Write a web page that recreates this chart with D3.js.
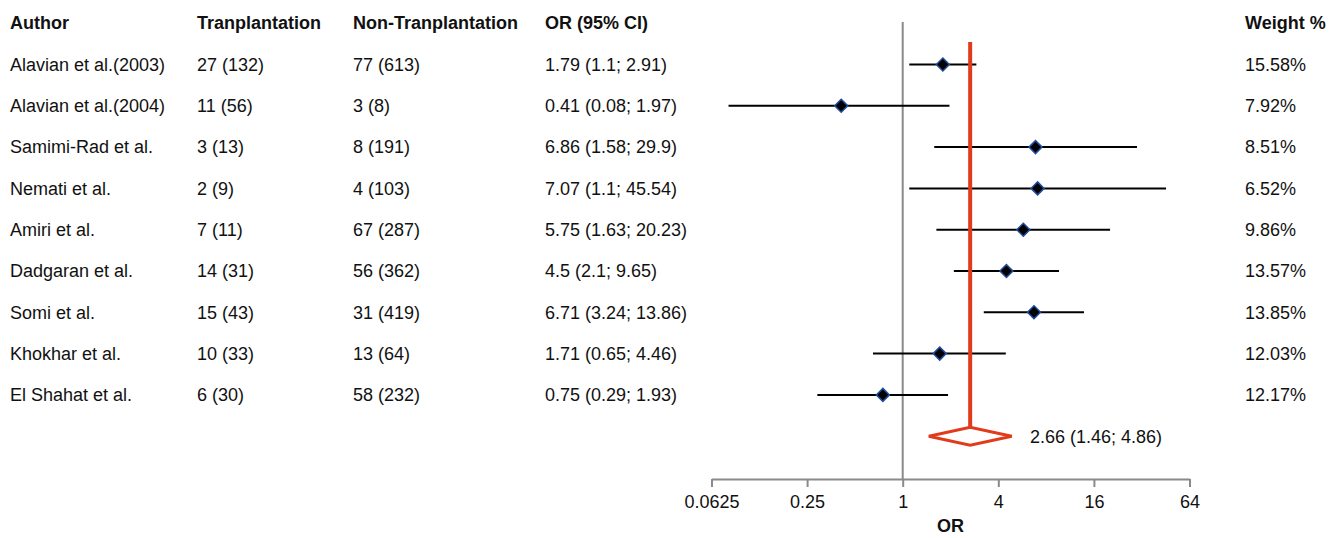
<!DOCTYPE html>
<html><head><meta charset="utf-8">
<script src="https://cdn.jsdelivr.net/npm/d3@7"></script>
<style>body{margin:0;background:#fff}svg{display:block}text{font-family:"Liberation Sans",Arial,sans-serif;font-size:18px;fill:#111}</style>
</head><body><svg id="c" width="1340" height="538"></svg>
<script>
const authors = ["Alavian et al.(2003)","Alavian et al.(2004)","Samimi-Rad et al.","Nemati et al.","Amiri et al.","Dadgaran et al.","Somi et al.","Khokhar et al.","El Shahat et al."];
const transplant = ["27 (132)","11 (56)","3 (13)","2 (9)","7 (11)","14 (31)","15 (43)","10 (33)","6 (30)"];
const nonTransplant = ["77 (613)","3 (8)","8 (191)","4 (103)","67 (287)","56 (362)","31 (419)","13 (64)","58 (232)"];
const orValues = [1.79,0.41,6.86,7.07,5.75,4.5,6.71,1.71,0.75];
const ciLow = [1.1,0.08,1.58,1.1,1.63,2.1,3.24,0.65,0.29];
const ciHigh = [2.91,1.97,29.9,45.54,20.23,9.65,13.86,4.46,1.93];
const weights = ["15.58%","7.92%","8.51%","6.52%","9.86%","13.57%","13.85%","12.03%","12.17%"];
const headers = ["Author","Tranplantation","Non-Tranplantation","OR (95% CI)","Weight %"];
const pooled = {or:2.66, lo:1.46, hi:4.86};
const tickValues = [0.0625,0.25,1,4,16,64];
const tickLabels = ["0.0625","0.25","1","4","16","64"];

const svg = d3.select("#c");
const x = d3.scaleLog().base(2).domain([0.0625,64]).range([711.5,1189.5]);
const y = d3.scaleLinear().domain([0,1]).range([64.5,105.8]);
const headerY = 23, axisY = 479;
const colX = [10,197,353,545,1245];

// headers
svg.selectAll("text.h").data(headers).join("text").attr("class","h")
  .attr("x",(d,i)=>colX[i]).attr("y",headerY).attr("dy","0.35em")
  .style("font-weight","bold").text(d=>d);

const cols = [authors, transplant, nonTransplant, orValues.map((v,i)=>`${v} (${ciLow[i]}; ${ciHigh[i]})`), weights];
cols.forEach((col,ci)=>{
  svg.selectAll(null).data(col).join("text")
    .attr("x",colX[ci]).attr("y",(d,i)=>y(i)).attr("dy","0.35em").text(d=>d);
});

// reference line at 1
svg.append("line").attr("x1",x(1)).attr("x2",x(1)).attr("y1",22).attr("y2",axisY)
  .attr("stroke","#8a8a8a").attr("stroke-width",2);

// CI lines
svg.selectAll("line.ci").data(orValues).join("line").attr("class","ci")
  .attr("x1",(d,i)=>x(ciLow[i])).attr("x2",(d,i)=>x(ciHigh[i]))
  .attr("y1",(d,i)=>y(i)).attr("y2",(d,i)=>y(i))
  .attr("stroke","#000").attr("stroke-width",2);

const sumY = y(authors.length);
// pooled vertical line
svg.append("line").attr("x1",x(pooled.or)).attr("x2",x(pooled.or)).attr("y1",42).attr("y2",sumY-8)
  .attr("stroke","#e23b1c").attr("stroke-width",4);

// point diamonds
const s = 6.5;
svg.selectAll("path.pt").data(orValues).join("path").attr("class","pt")
  .attr("d",(d,i)=>{const cx=x(d),cy=y(i);return `M${cx},${cy-s}L${cx+s},${cy}L${cx},${cy+s}L${cx-s},${cy}Z`;})
  .attr("fill","#000").attr("stroke","#1f4e9e").attr("stroke-width",1.5);

// pooled diamond
const h = 9;
svg.append("path")
  .attr("d",`M${x(pooled.lo)},${sumY}L${x(pooled.or)},${sumY-h}L${x(pooled.hi)},${sumY}L${x(pooled.or)},${sumY+h}Z`)
  .attr("fill","#fff").attr("stroke","#e23b1c").attr("stroke-width",3).attr("stroke-linejoin","miter");
svg.append("text").attr("x",1030).attr("y",sumY).attr("dy","0.35em")
  .text(`${pooled.or} (${pooled.lo}; ${pooled.hi})`);

// axis
const ax = svg.append("g").attr("transform",`translate(0,${axisY})`)
  .call(d3.axisBottom(x).tickValues(tickValues).tickFormat((d,i)=>tickLabels[i]).tickSize(8).tickSizeOuter(0).tickPadding(8));
ax.select(".domain").attr("stroke","#8a8a8a").attr("stroke-width",2);
ax.selectAll(".tick line").attr("stroke","#8a8a8a").attr("stroke-width",2);
ax.selectAll(".tick text").attr("font-family",null).attr("font-size",null).style("font-size","18px").style("fill","#111");
svg.append("text").attr("x",(x.range()[0]+x.range()[1])/2).attr("y",532)
  .attr("text-anchor","middle").style("font-weight","bold").text("OR");
</script></body></html>
